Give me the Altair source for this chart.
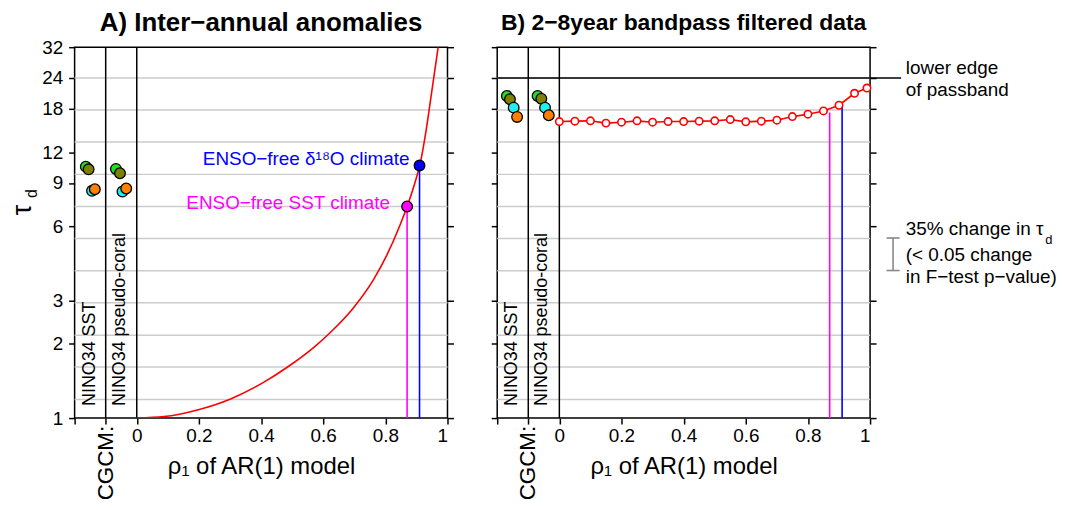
import altair as alt
import pandas as pd

FONT = "Liberation Sans"
W, H = 375, 373

# ---------------- data ----------------
y_ticks = [1, 2, 3, 6, 9, 12, 18, 24, 32]
x_ticks = [-0.2, -0.1, 0, 0.2, 0.4, 0.6, 0.8, 1]
grid_tau = [1.19, 1.61, 2.17, 2.94, 3.96, 5.35, 7.22, 9.75, 13.2, 17.8, 24.0]
separators = [-0.1, 0.0]

model_names = ["m1", "m2", "m3", "m4"]
model_colors = ["#22dd22", "#808000", "#22eeee", "#ff8000"]

a_sst_rho = [-0.164, -0.155, -0.144, -0.135]
a_sst_tau = [10.48, 10.22, 8.36, 8.48]
a_coral_rho = [-0.067, -0.054, -0.046, -0.034]
a_coral_tau = [10.26, 9.85, 8.30, 8.54]
b_sst_rho = [-0.169, -0.159, -0.147, -0.136]
b_sst_tau = [20.28, 19.67, 18.19, 16.68]
b_coral_rho = [-0.070, -0.058, -0.046, -0.034]
b_coral_tau = [20.28, 19.78, 18.19, 16.95]

curve_rho = [0.0, 0.088, 0.195, 0.302, 0.408, 0.483, 0.569, 0.622, 0.697,
             0.761, 0.804, 0.847, 0.870, 0.895, 0.911, 0.933, 0.949, 0.970]
curve_tau = [1.0, 1.014, 1.079, 1.196, 1.396, 1.604, 1.932, 2.22, 2.80,
             3.63, 4.56, 6.06, 7.22, 9.0, 10.63, 15.2, 21.0, 32.0]

bp_rho = [0.0, 0.05, 0.10, 0.15, 0.20, 0.25, 0.30, 0.35, 0.40, 0.45, 0.50,
          0.55, 0.60, 0.65, 0.70, 0.75, 0.80, 0.85, 0.90, 0.95, 0.99]
bp_tau = [15.97, 16.03, 16.08, 15.74, 15.88, 16.08, 15.88, 15.97, 15.97, 16.03, 16.08,
          16.27, 15.93, 16.03, 16.18, 16.73, 17.11, 17.64, 18.6, 20.8, 21.85]

enso_names = ["SST", "d18O"]
enso_rho = [0.87, 0.91]
enso_colors = ["#ff00ff", "#0000ff"]
a_enso_tau = [7.22, 10.6]
b_enso_top = [17.4, 18.9]

passband_tau = 24.0
panel_titles = ["A) Inter−annual anomalies", "B) 2−8year bandpass filtered data"]
panel_title_sizes = [26, 23]

# ---------------- helpers ----------------
xscale = alt.Scale(domain=[-0.2, 1], nice=False, zero=False)
yscale = alt.Scale(type="log", domain=[1, 32], nice=False)
cscale = alt.Scale(domain=model_names + enso_names, range=model_colors + enso_colors)

xaxis = alt.Axis(
    values=x_ticks,
    labelExpr="datum.value < -0.001 ? '' : (abs(datum.value) < 0.001 ? '0' : (datum.value > 0.999 ? '1' : format(datum.value, '.1f')))",
    grid=False, domain=False, tickColor="black", tickWidth=1.5, tickSize=6,
    labelFontSize=19, labelColor="black", labelPadding=3, labelFont=FONT,
    title="ρ₁ of AR(1) model", titleFontSize=24, titleFontWeight="normal",
    titleColor="black", titlePadding=9, titleFont=FONT,
)


def yaxis(orient, labels):
    return alt.Axis(
        values=y_ticks, orient=orient, labels=labels, grid=False, domain=False,
        tickColor="black", tickWidth=1.5, tickSize=6, labelFontSize=19,
        labelColor="black", labelPadding=6, labelFont=FONT,
        labelExpr="format(datum.value, '~g')", title=None,
    )


def X(field):
    return alt.X(f"{field}:Q", scale=xscale, axis=xaxis)


def Y(field, axis=None):
    return alt.Y(f"{field}:Q", scale=yscale, axis=axis)


def C(field):
    return alt.Color(f"{field}:N", scale=cscale, legend=None)


def panel(title, tsize, sst_rho, sst_tau, coral_rho, coral_tau, left_labels):
    grid = alt.Chart(pd.DataFrame({"tau": grid_tau})).mark_rule(
        color="#cccccc", strokeWidth=1.5
    ).encode(y=Y("tau", yaxis("left", left_labels)), x=alt.value(0), x2=alt.value(W))

    sep = alt.Chart(pd.DataFrame({"x": separators})).mark_rule(
        color="black", strokeWidth=1.5
    ).encode(x=X("x"))

    labs = pd.DataFrame({
        "x": [-0.151, -0.055],
        "y": [1.12, 1.12],
        "t": ["NINO34 SST", "NINO34 pseudo-coral"],
    })
    lab = alt.Chart(labs).mark_text(
        angle=270, align="left", baseline="middle", fontSize=18, font=FONT, color="black"
    ).encode(x=X("x"), y=Y("y"), text="t:N")

    cg = alt.Chart(pd.DataFrame({"x": [-0.1], "y": [0.93], "t": ["CGCM:"]})).mark_text(
        angle=270, align="right", baseline="middle", fontSize=22.5, font=FONT, color="black"
    ).encode(x=X("x"), y=Y("y"), text="t:N")

    ttl = alt.Chart(pd.DataFrame({"x": [0.4], "y": [40.0], "t": [title]})).mark_text(
        align="center", baseline="middle", fontSize=tsize, fontWeight="bold", font=FONT, color="black"
    ).encode(x=X("x"), y=Y("y"), text="t:N")

    pts = pd.DataFrame({
        "x": sst_rho + coral_rho,
        "tau": sst_tau + coral_tau,
        "model": model_names + model_names,
    })
    pts = pts.iloc[[0, 4, 1, 5, 2, 6, 3, 7]]
    points = alt.Chart(pts).mark_circle(
        size=115, opacity=1, stroke="black", strokeWidth=1.3
    ).encode(x=X("x"), y=Y("tau", yaxis("right", False)), color=C("model"))
    return [grid, sep, lab, cg, ttl, points]


# ---------------- panel A ----------------
gA, sA, lA, cA, tA, pA = panel(panel_titles[0], panel_title_sizes[0],
                               a_sst_rho, a_sst_tau, a_coral_rho, a_coral_tau, True)

curveA = alt.Chart(pd.DataFrame({"x": curve_rho, "tau": curve_tau})).mark_line(
    color="red", strokeWidth=1.6, interpolate="monotone", clip=True
).encode(x=X("x"), y=Y("tau"))

ensoA_df = pd.DataFrame({"x": enso_rho, "tau": a_enso_tau, "base": [1, 1], "name": enso_names})
ensoA_rule = alt.Chart(ensoA_df).mark_rule(strokeWidth=1.6).encode(
    x=X("x"), y=Y("base"), y2="tau", color=C("name"))
ensoA_pts = alt.Chart(ensoA_df).mark_circle(size=115, opacity=1, stroke="black", strokeWidth=1.3).encode(
    x=X("x"), y=Y("tau"), color=C("name"))
ensoA_txt_df = pd.DataFrame({
    "x": [0.815, 0.878], "y": [7.43, 11.3],
    "t": ["ENSO−free SST climate", "ENSO−free δ¹⁸O climate"], "name": enso_names,
})
ensoA_txt = alt.Chart(ensoA_txt_df).mark_text(align="right", baseline="middle", fontSize=19, font=FONT).encode(
    x=X("x"), y=Y("y"), text="t:N", color=C("name"))

ytitle = alt.Chart(pd.DataFrame({"x": [-0.365], "y": [7.0], "t": ["τ"]})).mark_text(
    angle=270, align="center", baseline="middle", fontSize=27, font=FONT, color="black").encode(
    x=X("x"), y=Y("y"), text="t:N")
ysub = alt.Chart(pd.DataFrame({"x": [-0.338], "y": [8.15], "t": ["d"]})).mark_text(
    angle=270, align="center", baseline="middle", fontSize=16, font=FONT, color="black").encode(
    x=X("x"), y=Y("y"), text="t:N")

chartA = alt.layer(
    gA, sA, curveA, ensoA_rule, lA, cA, tA, pA, ensoA_pts, ensoA_txt, ytitle, ysub
).resolve_axis(y="independent").properties(width=W, height=H)

# ---------------- panel B ----------------
gB, sB, lB, cB, tB, pB = panel(panel_titles[1], panel_title_sizes[1],
                               b_sst_rho, b_sst_tau, b_coral_rho, b_coral_tau, False)

bp_df = pd.DataFrame({"x": bp_rho, "tau": bp_tau})
bp_line = alt.Chart(bp_df).mark_line(color="red", strokeWidth=1.6).encode(x=X("x"), y=Y("tau"))
bp_pts = alt.Chart(bp_df).mark_point(
    shape="circle", filled=True, fill="white", stroke="red", strokeWidth=1.6, size=55, opacity=1
).encode(x=X("x"), y=Y("tau"))

ensoB_df = pd.DataFrame({"x": enso_rho, "tau": b_enso_top, "base": [1, 1], "name": enso_names})
ensoB_rule = alt.Chart(ensoB_df).mark_rule(strokeWidth=1.6).encode(
    x=X("x"), y=Y("base"), y2="tau", color=C("name"))

pass_df = pd.DataFrame({"x1": [-0.2], "x2": [1.10], "tau": [passband_tau]})
pass_rule = alt.Chart(pass_df).mark_rule(color="black", strokeWidth=1.5, clip=False).encode(
    x=X("x1"), x2="x2", y=Y("tau"))

note_df = pd.DataFrame({
    "x": [1.115, 1.115, 1.115, 1.115, 1.115],
    "y": [26.3, 21.5, 5.83, 4.58, 3.73],
    "t": ["lower edge", "of passband", "35% change in τ", "(< 0.05 change", "in F−test p−value)"],
})
notes = alt.Chart(note_df).mark_text(align="left", baseline="middle", fontSize=19, font=FONT, color="black").encode(
    x=X("x"), y=Y("y"), text="t:N")
nsub = alt.Chart(pd.DataFrame({"x": [1.575], "y": [5.3], "t": ["d"]})).mark_text(
    align="center", baseline="middle", fontSize=13, font=FONT, color="black").encode(
    x=X("x"), y=Y("y"), text="t:N")

bar_lo, bar_hi = 3.97, 5.38
bar_v = alt.Chart(pd.DataFrame({"x": [1.074], "lo": [bar_lo], "hi": [bar_hi]})).mark_rule(
    color="#888888", strokeWidth=1.6).encode(x=X("x"), y=Y("lo"), y2="hi")
bar_caps = alt.Chart(pd.DataFrame({"x1": [1.053, 1.053], "x2": [1.095, 1.095], "y": [bar_lo, bar_hi]})).mark_rule(
    color="#888888", strokeWidth=1.6).encode(x=X("x1"), x2="x2", y=Y("y"))

chartB = alt.layer(
    gB, sB, pass_rule, ensoB_rule, bp_line, bp_pts, lB, cB, tB, pB, notes, nsub, bar_v, bar_caps
).resolve_axis(y="independent").properties(width=W, height=H)

chart = alt.hconcat(chartA, chartB, spacing=34).properties(
    padding={"left": 0, "top": 0, "right": 0, "bottom": 0}
).configure_view(
    stroke="black", strokeWidth=1.5
).configure_text(font=FONT)

chart.save("out.html", embed_options={"renderer": "svg", "actions": False})
